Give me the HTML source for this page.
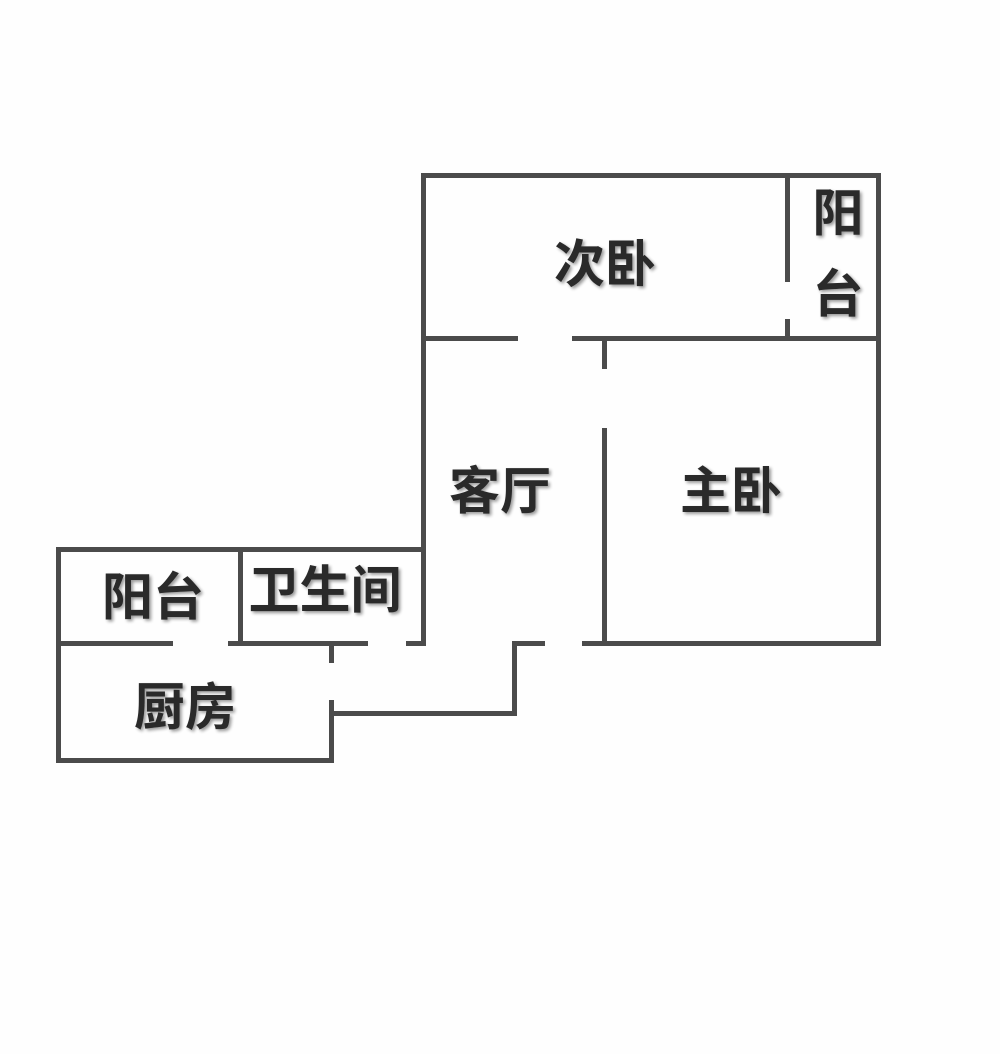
<!DOCTYPE html>
<html><head><meta charset="utf-8"><style>
html,body{margin:0;padding:0;background:#fefefe;}
svg{display:block}
text{font-family:"Liberation Sans","Noto Sans CJK SC",sans-serif;font-weight:bold;fill:#2a2a2a;}
</style></head><body>
<svg width="1000" height="1054" viewBox="0 0 1000 1054" xmlns="http://www.w3.org/2000/svg">
<defs><filter id="s" x="-10%" y="-10%" width="130%" height="130%"><feGaussianBlur in="SourceAlpha" stdDeviation="1.5"/><feOffset dx="2" dy="2"/><feComponentTransfer><feFuncA type="linear" slope="0.4"/></feComponentTransfer><feMerge><feMergeNode/><feMergeNode in="SourceGraphic"/></feMerge></filter></defs>
<g fill="#4b4b4b">
<rect x="421" y="173" width="460" height="5"/>
<rect x="421" y="173" width="5" height="473"/>
<rect x="876" y="173" width="5" height="473"/>
<rect x="421" y="336" width="97" height="5"/>
<rect x="572" y="336" width="309" height="5"/>
<rect x="785" y="173" width="5" height="109"/>
<rect x="785" y="319" width="5" height="20"/>
<rect x="602" y="341" width="5" height="28"/>
<rect x="602" y="428" width="5" height="217"/>
<rect x="582" y="641" width="299" height="5"/>
<rect x="512" y="641" width="33" height="5"/>
<rect x="512" y="641" width="5" height="75"/>
<rect x="329" y="711" width="188" height="5"/>
<rect x="56" y="547" width="370" height="5"/>
<rect x="56" y="547" width="5" height="216"/>
<rect x="238" y="547" width="5" height="97"/>
<rect x="56" y="641" width="117" height="5"/>
<rect x="228" y="641" width="140" height="5"/>
<rect x="406" y="641" width="20" height="5"/>
<rect x="329" y="641" width="5" height="22"/>
<rect x="329" y="700" width="5" height="63"/>
<rect x="56" y="758" width="278" height="5"/>
</g>
<g filter="url(#s)" font-size="51">
<text x="605" y="282" text-anchor="middle">次卧</text>
<text x="838" y="231" text-anchor="middle">阳</text>
<text x="838" y="312" text-anchor="middle">台</text>
<text x="500" y="509" text-anchor="middle">客厅</text>
<text x="731" y="509" text-anchor="middle">主卧</text>
<text x="153" y="615" text-anchor="middle">阳台</text>
<text x="325" y="608" text-anchor="middle">卫生间</text>
<text x="185" y="725" text-anchor="middle">厨房</text>
</g>
</svg>
</body></html>
